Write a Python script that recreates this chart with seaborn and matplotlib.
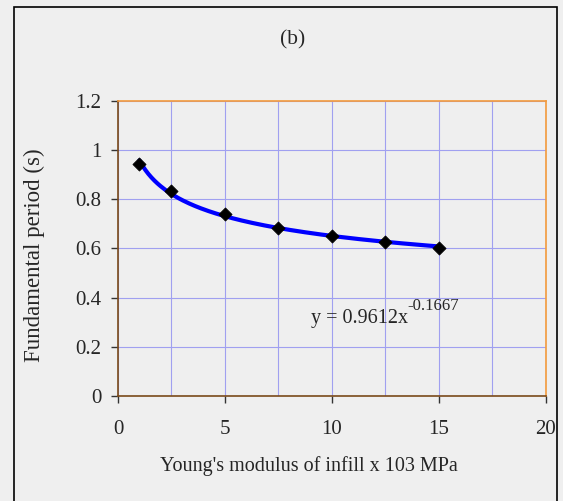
import numpy as np
import pandas as pd
import matplotlib
matplotlib.use("Agg")
import matplotlib.pyplot as plt
from matplotlib.patches import Rectangle
from matplotlib.ticker import MultipleLocator
import seaborn as sns

# Young's modulus of infill (x 10^3 MPa) vs fundamental period (s)
modulus = [1, 2.5, 5, 7.5, 10, 12.5, 15]
period = [0.944, 0.834, 0.740, 0.684, 0.652, 0.625, 0.602]

x_ticks = [0, 5, 10, 15, 20]
y_ticks = [0, 0.2, 0.4, 0.6, 0.8, 1.0, 1.2]
y_tick_labels = ["0", "0.2", "0.4", "0.6", "0.8", "1", "1.2"]

sns.set_style("white")
plt.rcParams['font.family'] = ['Liberation Serif', 'DejaVu Serif']

bg = "#efefef"
fig = plt.figure(figsize=(5.63, 5.01), dpi=100, facecolor=bg)
ax = fig.add_axes([0.2096, 0.2096, 0.76, 0.5888], facecolor=bg)

# power trendline fitted to the points (log-log least squares)
b, log_a = np.polyfit(np.log(modulus), np.log(period), 1)
trend_x = np.linspace(min(modulus), max(modulus), 200)
trend = pd.DataFrame({"x": trend_x, "y": np.exp(log_a) * trend_x ** b})
sns.lineplot(data=trend, x="x", y="y", ax=ax, color="#0000ff", lw=3, zorder=3)

df = pd.DataFrame({"modulus": modulus, "period": period})
sns.scatterplot(data=df, x="modulus", y="period", ax=ax, marker="D", s=45,
                color="black", edgecolor="black", zorder=4)

ax.set_xlim(0, 20)
ax.set_ylim(0, 1.2)
ax.set_xticks(x_ticks)
ax.set_yticks(y_ticks)
ax.set_yticklabels(y_tick_labels)
ax.xaxis.set_minor_locator(MultipleLocator(2.5))
ax.grid(True, which="both", color="#a0a0f0", lw=0.8)
ax.set_axisbelow(True)
ax.tick_params(axis="both", which="major", direction="out", length=5, width=1,
               color="#333333", labelsize=15, pad=7, bottom=True, left=True)
ax.tick_params(axis="x", which="minor", length=0)
ax.tick_params(axis="x", pad=12)

for side in ["top", "right"]:
    ax.spines[side].set_color("#f39a3c")
    ax.spines[side].set_linewidth(1.2)
for side in ["left", "bottom"]:
    ax.spines[side].set_color("#7a4a1a")
    ax.spines[side].set_linewidth(1.2)

ax.set_xlabel("Young's modulus of infill x 103 MPa", fontsize=14.5)
ax.xaxis.set_label_coords(0.445, -0.205)
ax.set_ylabel("Fundamental period (s)", fontsize=16.5)
ax.yaxis.set_label_coords(-0.171, 0.478)

eq = ax.text(9.0, 0.296, "y = 0.9612x", fontsize=14.5, ha="left", va="baseline")
ax.annotate("-0.1667", xy=(1.0, 0.95), xycoords=eq, fontsize=12,
            ha="left", va="baseline")

fig.text(0.519, 0.92, "(b)", fontsize=15.5, ha="center", va="center")

# outer frame
fig.patches.append(Rectangle((0.0249, -0.05), 0.9644, 1.036, transform=fig.transFigure,
                             fill=False, edgecolor="black", lw=1.2))

fig.savefig("out.png", dpi=100, facecolor=bg)
